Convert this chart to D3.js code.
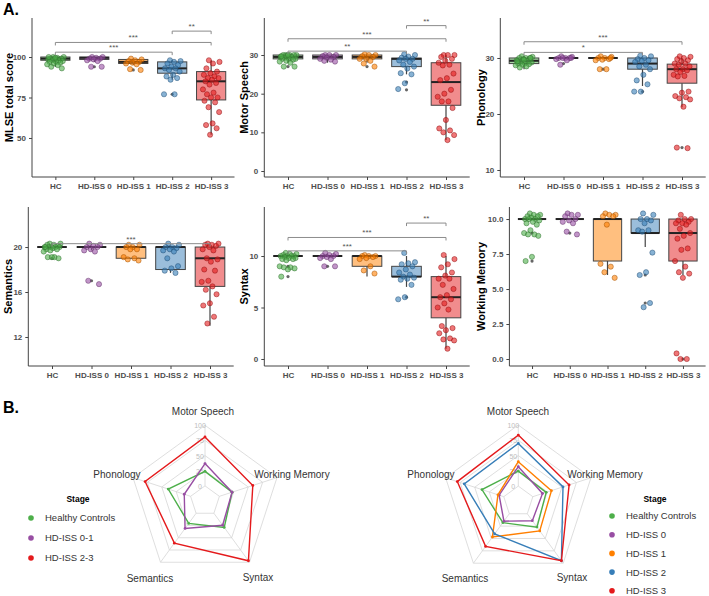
<!DOCTYPE html>
<html>
<head>
<meta charset="utf-8">
<script src="https://cdn.jsdelivr.net/npm/d3@7"></script>
<style>
  body { margin: 0; background: #fff; }
  text { font-family: "Liberation Sans", Arial, sans-serif; }
</style>
</head>
<body>
<svg id="chart" width="709" height="596"></svg>
<script>
// ---- data ----
const groups = ['HC', 'HD-ISS 0', 'HD-ISS 1', 'HD-ISS 2', 'HD-ISS 3'];
const groupColors = ['#4daf4a', '#984ea3', '#ff7f00', '#377eb8', '#e41a1c'];

// box stats per group: [lower whisker, q1, median, q3, upper whisker]
const mlsePoints = [
  [100, 100, 99.5, 99, 99, 98.5, 98.5, 98, 98, 97.5, 97, 97, 96.5, 96, 95.5, 95, 94, 93, 99.5, 100],
  [100, 100, 99.5, 99, 99, 98.5, 98, 97.5, 94, 94],
  [99, 98.5, 98, 97.5, 97, 96.5, 96, 95.5, 92.5, 92],
  [98, 97.5, 97, 96, 95, 94, 93, 93, 92, 91, 89, 88, 87, 86, 77, 77],
  [98, 97, 96, 93, 91, 90, 89, 88, 87, 87, 86, 85, 84, 83, 80, 78, 77, 75, 75, 73, 72, 69, 66, 59, 58, 56, 52],
];
const mlseBoxes = [[94, 98, 99, 100, 100], [97, 98.5, 99.5, 100, 100], [95, 96, 97, 98.5, 99], [86, 90, 93, 97, 98], [52, 73.5, 85, 91, 98]];
const mlseOutliers = [[], [94], [92], [77], []];
const mlseTicks = [50, 75, 100];
const mlseSig = [[3, 4, 116, '**'], [0, 4, 109, '***'], [0, 3, 103, '***']];

const motorPoints = [
  [30, 30, 30, 30, 30, 29.8, 29.5, 29.5, 29.3, 29, 29, 29, 28.8, 28.5, 28.3, 28, 27, 27, 30, 29.7],
  [30, 30, 30, 29.7, 29.5, 29.3, 29, 28.8, 28.5, 28.3],
  [30.2, 30, 30, 29.7, 29.5, 29, 29, 28.5, 27.8, 27],
  [30.2, 30, 29.6, 29.3, 29, 29, 28.6, 28.2, 27.5, 27, 26.5, 25.3, 25, 22.7, 21.2],
  [30, 30, 30, 29.5, 29, 28.5, 28, 27.5, 27.3, 25.2, 24, 23.5, 21, 20, 19.2, 18, 18, 16.3, 13.2, 11, 10.5, 10, 9.3, 8],
];
const motorBoxes = [[28, 29, 29.5, 30, 30], [28, 29, 29.5, 30, 30], [28, 29, 29.5, 30, 30], [25, 27, 29, 29.2, 30], [8, 17, 23, 28, 30]];
const motorOutliers = [[27], [], [27], [23, 21], []];
const motorTicks = [0, 10, 20, 30];
const motorSig = [[3, 4, 37.6, '**'], [0, 4, 34.2, '***'], [0, 3, 31, '**']];

const phonPoints = [
  [30.3, 30.2, 30, 30, 30, 29.8, 29.6, 29.5, 29.3, 29.2, 29, 29, 28.9, 28.8, 28.7, 28.5, 28.3, 30, 29.7, 29.4],
  [30.3, 30.2, 30, 30, 30, 30, 29.8, 29.6, 28.8, 30],
  [30.3, 30.2, 30, 30, 29.8, 29.7, 29.6, 28, 28, 30],
  [30.4, 30.3, 30, 29.8, 29.6, 29.5, 29.3, 28.8, 28.5, 28, 27, 26, 25.3, 24, 24],
  [30.3, 30.2, 30, 29.8, 29.6, 29.4, 29, 29, 28.8, 28.5, 28, 28, 27.8, 27.5, 27, 26.8, 26.7, 24, 23.8, 23.2, 23, 22.8, 22.6, 21.3, 14, 13.9],
];
const phonBoxes = [[28, 29, 29.5, 30, 30], [30, 30, 30, 30, 30], [30, 30, 30, 30, 30], [25, 28, 29, 30, 30], [21.2, 25.5, 28, 28.9, 30]];
const phonOutliers = [[], [29], [28], [24], [14]];
const phonTicks = [10, 20, 30];
const phonSig = [[0, 4, 32.9, '***'], [0, 3, 31, '*']];

const semPoints = [
  [20.3, 20.3, 20.2, 20.2, 20.1, 20, 20, 20, 20, 20, 19.9, 19.8, 19.8, 19.7, 19.6, 19.1, 19.1, 19, 19.1, 20],
  [20.3, 20.2, 20.1, 20, 20, 19.8, 19.7, 19.6, 17, 16.7],
  [20.2, 20.2, 20, 20, 19.8, 19.8, 19.1, 19, 18.9, 18.8],
  [20.3, 20.2, 20, 20, 19.9, 19.8, 19.7, 19.6, 19, 18.3, 18.1, 17.9, 17.7],
  [20.3, 20.3, 20.2, 20.2, 20.1, 20, 19.8, 19.7, 19, 18.9, 18.7, 18, 17.9, 17, 16.9, 16.5, 16.2, 15.8, 15, 14.8, 13.8, 13.2],
];
const semBoxes = [[20, 20, 20, 20, 20], [19.7, 20, 20, 20, 20], [19, 19, 20, 20, 20], [17.7, 18, 20, 20, 20], [13, 16.5, 19, 20, 20]];
const semOutliers = [[19], [17], [], [], []];
const semTicks = [12, 16, 20];
const semSig = [[0, 4, 20.3, '***']];

const synPoints = [
  [10.3, 10.2, 10.2, 10.1, 10, 10, 10, 10, 9.9, 9.8, 9.8, 9.7, 9.7, 9.6, 9, 8.9, 8.9, 8.8, 8.7, 8],
  [10.3, 10.2, 10.1, 10, 10, 9.9, 9.8, 9.7, 9, 9],
  [10.1, 10, 10, 10, 9.9, 9.8, 9.7, 9, 8.6, 8.3],
  [10.3, 9.4, 9.3, 9.2, 9, 8.7, 8.4, 8.2, 8, 7.9, 7.8, 7.7, 7.2, 6, 5.8],
  [10.1, 9.7, 9.2, 8.9, 8.4, 8.1, 7.8, 7.8, 7.2, 6.8, 6.2, 6, 5.8, 5.4, 5, 4.8, 3.2, 3, 2.8, 2.5, 2, 1.9, 1.8, 1],
];
const synBoxes = [[10, 10, 10, 10, 10], [10, 10, 10, 10, 10], [8, 9, 10, 10, 10], [7, 8, 8, 9, 10], [1, 4, 6, 8, 10]];
const synOutliers = [[9, 8], [9], [], [6], []];
const synTicks = [0, 5, 10];
const synSig = [[3, 4, 13.2, '**'], [0, 4, 11.8, '***'], [0, 3, 10.5, '***']];

const wmPoints = [
  [10.4, 10.3, 10.3, 10.2, 10.2, 10.1, 10, 10, 10, 9.9, 9.8, 9.7, 9.6, 9.2, 9, 8.9, 8.9, 8.8, 7.3, 7],
  [10.4, 10.3, 10.3, 10.2, 10, 9.9, 9.8, 9.7, 9.1, 8.9],
  [10.4, 10.3, 10.3, 10.2, 10.2, 9.6, 6.8, 6.6, 6.2, 5.8],
  [10.4, 10.3, 10, 10, 9.9, 9.7, 9.2, 9.2, 9.1, 7.6, 6.2, 6, 4, 3.7],
  [10.3, 10, 10, 9.9, 9.8, 9.7, 9.7, 9.6, 9.3, 9, 8.8, 8.6, 7.9, 7.8, 7, 6.6, 6.2, 6.1, 5.8, 0.4, 0, 0],
];
const wmBoxes = [[10, 10, 10, 10, 10], [10, 10, 10, 10, 10], [6, 7, 10, 10, 10], [8, 9, 9, 10, 10], [6, 7, 9, 10, 10]];
const wmOutliers = [[9, 7], [9], [], [6, 4], [0]];
const wmTicks = [0, 2.5, 5, 7.5, 10];
const wmSig = [];

// radar (percent scale 0-100), axes clockwise from top
const radarAxes = ['Motor Speech', 'Working Memory', 'Syntax', 'Semantics', 'Phonology'];
const radarTicks = [0, 25, 50, 75, 100];
const stages3 = ['Healthy Controls', 'HD-ISS 0-1', 'HD-ISS 2-3'];
const stages3Colors = ['#4daf4a', '#984ea3', '#e41a1c'];
const radar3HC = [24, 22, 29, 20.7, 38.8];
const radar3Early = [36.8, 22, 24.5, 31, 11];
const radar3Late = [80.7, 58, 97, 61, 79];
const stages5 = ['Healthy Controls', 'HD-ISS 0', 'HD-ISS 1', 'HD-ISS 2', 'HD-ISS 3'];
const stages5Colors = ['#4daf4a', '#984ea3', '#ff7f00', '#377eb8', '#e41a1c'];
const radar5HC = [24.6, 23, 27, 18, 37.5];
const radar5Iss0 = [31.8, 16.7, 14, 15, 8];
const radar5Iss1 = [40, 32, 34.7, 47, 10];
const radar5Iss2 = [69.9, 51.9, 95, 40.8, 68];
const radar5Iss3 = [83.5, 62.4, 95, 66, 80];

// ---- drawing ----
const svg = d3.select('#chart');

svg.append('text').attr('x', 3).attr('y', 15)
  .style('font-size', '16px').style('font-weight', 'bold').text('A.');
svg.append('text').attr('x', 3).attr('y', 413)
  .style('font-size', '16px').style('font-weight', 'bold').text('B.');

// deterministic horizontal spread for the jittered points
const spread = i => ((((i * 0.61803398875) + 0.37) % 1) - 0.5) * 0.44;

function boxPanel(p) {
  const x = d3.scaleLinear().domain([0.4, 5.6]).range([p.x0, p.x1]);
  const y = d3.scaleLinear().domain(p.domain).range([p.yBot, p.yTop]);
  const g = svg.append('g');
  const bw = (x(1.375) - x(1));

  // y axis
  g.append('g')
    .attr('transform', `translate(${p.x0},0)`)
    .call(d3.axisLeft(y).tickValues(p.ticks).tickSize(3).tickSizeOuter(0).tickFormat(p.fmt || d3.format('d')))
    .call(a => a.select('.domain').attr('d', `M0,${p.yTop}V${p.yBot}`));
  // x axis
  g.append('g')
    .attr('transform', `translate(0,${p.yBot})`)
    .call(d3.axisBottom(x).tickValues([1, 2, 3, 4, 5]).tickSize(3).tickSizeOuter(0).tickFormat(d => groups[d - 1]))
    .call(a => a.select('.domain').attr('d', `M${p.x0},0H${p.x1}`));

  g.selectAll('.domain').attr('stroke', '#444').attr('stroke-width', 1);
  g.selectAll('.tick line').attr('stroke', '#444');
  g.selectAll('.tick text')
    .attr('fill', '#4d4d4d')
    .style('font-size', '8px')
    .style('font-weight', 'bold')
    .style('font-family', '"Liberation Sans", Arial, sans-serif');

  g.append('text')
    .attr('transform', `translate(${p.titleX},${(p.yTop + p.yBot) / 2})rotate(-90)`)
    .attr('text-anchor', 'middle')
    .style('font-size', '11px')
    .style('font-weight', 'bold')
    .text(p.title);

  // boxes
  p.boxes.forEach((b, i) => {
    const cx = x(i + 1);
    const col = groupColors[i];
    g.append('line').attr('x1', cx).attr('x2', cx).attr('y1', y(b[0])).attr('y2', y(b[1]))
      .attr('stroke', '#444').attr('stroke-width', 1.2);
    g.append('line').attr('x1', cx).attr('x2', cx).attr('y1', y(b[3])).attr('y2', y(b[4]))
      .attr('stroke', '#444').attr('stroke-width', 1.2);
    g.append('rect')
      .attr('x', cx - bw).attr('width', bw * 2)
      .attr('y', y(b[3])).attr('height', Math.max(0, y(b[1]) - y(b[3])))
      .attr('fill', col).attr('fill-opacity', 0.5)
      .attr('stroke', '#444').attr('stroke-width', 1);
    g.append('line').attr('x1', cx - bw).attr('x2', cx + bw).attr('y1', y(b[2])).attr('y2', y(b[2]))
      .attr('stroke', '#222').attr('stroke-width', 2);
  });

  // outliers of the boxplot
  p.outliers.forEach((vals, i) => {
    g.selectAll(null).data(vals).enter().append('circle')
      .attr('cx', x(i + 1)).attr('cy', d => y(d)).attr('r', 1.6)
      .attr('fill', '#666');
  });

  // jittered points
  p.points.forEach((vals, i) => {
    const col = groupColors[i];
    g.selectAll(null).data(vals).enter().append('circle')
      .attr('cx', (d, k) => x(i + 1 + spread(k)))
      .attr('cy', d => y(d))
      .attr('r', 2.6)
      .attr('fill', col).attr('fill-opacity', 0.6)
      .attr('stroke', d3.color(col).darker(1.3)).attr('stroke-width', 0.6).attr('stroke-opacity', 0.8);
  });

  // significance brackets
  p.sig.forEach(s => {
    const xa = x(s[0] + 1), xb = x(s[1] + 1), yy = y(s[2]);
    g.append('path')
      .attr('d', `M${xa},${yy + 3}V${yy}H${xb}V${yy + 3}`)
      .attr('fill', 'none').attr('stroke', '#8c8c8c').attr('stroke-width', 1);
    g.append('text')
      .attr('x', (xa + xb) / 2).attr('y', yy - 2)
      .attr('text-anchor', 'middle')
      .attr('fill', '#555')
      .style('font-size', '8px')
      .text(s[3]);
  });
}

boxPanel({ x0: 32, x1: 234.5, yTop: 18, yBot: 177, domain: [25.9, 124.1], ticks: mlseTicks,
  title: 'MLSE total score', titleX: 13, points: mlsePoints, boxes: mlseBoxes, outliers: mlseOutliers, sig: mlseSig });
boxPanel({ x0: 264.3, x1: 469.7, yTop: 18, yBot: 177, domain: [-1.55, 39.57], ticks: motorTicks,
  title: 'Motor Speech', titleX: 248, points: motorPoints, boxes: motorBoxes, outliers: motorOutliers, sig: motorSig });
boxPanel({ x0: 500.3, x1: 705.7, yTop: 18, yBot: 177, domain: [8.75, 37.14], ticks: phonTicks,
  title: 'Phonology', titleX: 485, points: phonPoints, boxes: phonBoxes, outliers: phonOutliers, sig: phonSig });
boxPanel({ x0: 28.3, x1: 233.7, yTop: 207, yBot: 366, domain: [9.42, 23.56], ticks: semTicks,
  title: 'Semantics', titleX: 12, points: semPoints, boxes: semBoxes, outliers: semOutliers, sig: semSig });
boxPanel({ x0: 264.3, x1: 469.7, yTop: 207, yBot: 366, domain: [-0.68, 14.76], ticks: synTicks,
  title: 'Syntax', titleX: 248, points: synPoints, boxes: synBoxes, outliers: synOutliers, sig: synSig });
boxPanel({ x0: 509.4, x1: 705.6, yTop: 207, yBot: 366, domain: [-0.5, 10.86], ticks: wmTicks, fmt: d3.format('.1f'),
  title: 'Working Memory', titleX: 485, points: wmPoints, boxes: wmBoxes, outliers: wmOutliers, sig: wmSig });

// ---- radar charts ----
function radar(cx, cy, R, series, colors, labelPos) {
  const g = svg.append('g');
  const r = d3.scaleLinear().domain([0, 100]).range([R / 5, R]);
  const ang = i => i * 2 * Math.PI / radarAxes.length;
  const pt = (i, v) => [cx + r(v) * Math.sin(ang(i)), cy - r(v) * Math.cos(ang(i))];

  radarTicks.forEach(t => {
    g.append('path')
      .attr('d', d3.line()(radarAxes.map((a, i) => pt(i, t))) + 'Z')
      .attr('fill', 'none').attr('stroke', '#d6d6d6').attr('stroke-width', 0.8);
  });
  radarAxes.forEach((a, i) => {
    const p0 = pt(i, 0), p1 = pt(i, 100);
    g.append('line').attr('x1', p0[0]).attr('y1', p0[1]).attr('x2', p1[0]).attr('y2', p1[1])
      .attr('stroke', '#d6d6d6').attr('stroke-width', 0.8);
  });
  radarTicks.forEach(t => {
    g.append('text')
      .attr('x', cx - 5).attr('y', cy - r(t) + 3)
      .attr('text-anchor', 'middle')
      .attr('fill', '#bdbdbd')
      .style('font-size', '7px')
      .text(t);
  });

  series.forEach((vals, s) => {
    const pts = vals.map((v, i) => pt(i, v));
    g.append('path')
      .attr('d', d3.line()(pts) + 'Z')
      .attr('fill', 'none').attr('stroke', colors[s]).attr('stroke-width', 1.4);
    g.selectAll(null).data(pts).enter().append('circle')
      .attr('cx', d => d[0]).attr('cy', d => d[1]).attr('r', 1.4).attr('fill', colors[s]);
  });

  radarAxes.forEach((a, i) => {
    g.append('text')
      .attr('x', labelPos[i][0]).attr('y', labelPos[i][1])
      .attr('text-anchor', 'middle')
      .attr('fill', '#333')
      .style('font-size', '10px')
      .text(a);
  });
}

function legend(x, yTitle, yFirst, step, labels, colors, titleX) {
  const g = svg.append('g');
  g.append('text').attr('x', titleX).attr('y', yTitle)
    .attr('text-anchor', 'middle')
    .style('font-size', '8.5px').style('font-weight', 'bold').text('Stage');
  labels.forEach((l, i) => {
    g.append('circle').attr('cx', x).attr('cy', yFirst + i * step).attr('r', 2.8).attr('fill', colors[i]);
    g.append('text').attr('x', x + 14).attr('y', yFirst + i * step + 3.4)
      .attr('fill', '#333')
      .style('font-size', '9.5px').text(l);
  });
}

radar(205, 501, 75.7, [radar3HC, radar3Early, radar3Late], stages3Colors,
  [[203, 415], [292, 478], [258, 581], [150, 582], [117, 478]]);
radar(518.3, 501.4, 76.4, [radar5HC, radar5Iss0, radar5Iss1, radar5Iss2, radar5Iss3], stages5Colors,
  [[518, 415], [605, 478], [572, 581], [465, 582], [431, 478]]);

legend(31, 502, 518, 20, stages3, stages3Colors, 78);
legend(612, 502, 516, 18.7, stages5, stages5Colors, 655);
</script>
</body>
</html>
